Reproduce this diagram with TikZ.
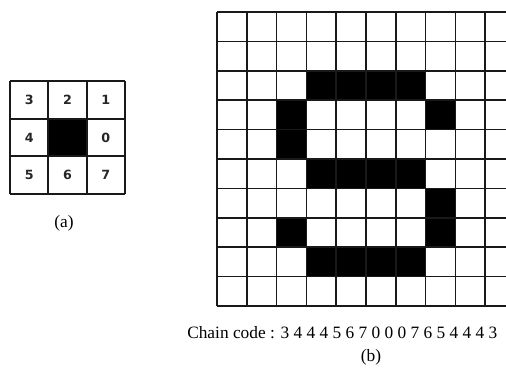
\documentclass[tikz,border=0pt]{standalone}
\usepackage{fontspec}
\setmainfont{Liberation Serif}
\newfontfamily\digitfont{DejaVu Sans}
\usetikzlibrary{positioning}

\tikzset{
  gridline/.style={draw=black!90, line width=1.2pt},
  digit/.style={font=\digitfont\bfseries\fontsize{9.5}{10}\selectfont, text=black!85, inner sep=0pt},
  lbl/.style={font=\fontsize{13}{15}\selectfont, inner sep=0pt}
}

\begin{document}
\begin{tikzpicture}[x=0.75pt,y=-0.75pt]
\useasboundingbox (0,0) rectangle (506,370);
% (a) neighbourhood with direction numbers
\fill (48.3,118.7) rectangle (86.7,156.3);
\foreach \x in {10,48.3,86.7,125}
  \draw[gridline, line width=1.4pt] (\x,81) -- (\x,194);
\foreach \y in {81,118.7,156.3,194}
  \draw[gridline, line width=1.4pt] (10,\y) -- (125,\y);
\foreach \c/\r/\d in {0/0/3, 1/0/2, 2/0/1, 0/1/4, 2/1/0, 0/2/5, 1/2/6, 2/2/7}
  \node[digit] (d\d) at ({10+38.33*(\c+0.5)},{81+37.67*(\r+0.5)}) {\d};
\node[lbl] (capA) at (64,223) {(a)};
% (b) the shape on a 10 x 10 raster
\foreach \c/\r in {3/2, 4/2, 5/2, 6/2, 2/3, 7/3, 2/4, 3/5, 4/5, 5/5, 6/5,
                   7/6, 2/7, 7/7, 3/8, 4/8, 5/8, 6/8}
  \fill ({217+29.8*\c},{12+29.4*\r}) rectangle +(29.8,29.4);
\foreach \i in {0,...,9}
  \draw[gridline] ({217+29.8*\i},12) -- ({217+29.8*\i},306);
\foreach \j in {0,...,10}
  \draw[gridline] (217,{12+29.4*\j}) -- (506,{12+29.4*\j});
\node[lbl, anchor=base west] (code) at (187,338) {Chain code : 3 4 4 4 5 6 7 0 0 0 7 6 5 4 4 4 3};
\node[lbl] (capB) at (371,357) {(b)};
\end{tikzpicture}
\end{document}
